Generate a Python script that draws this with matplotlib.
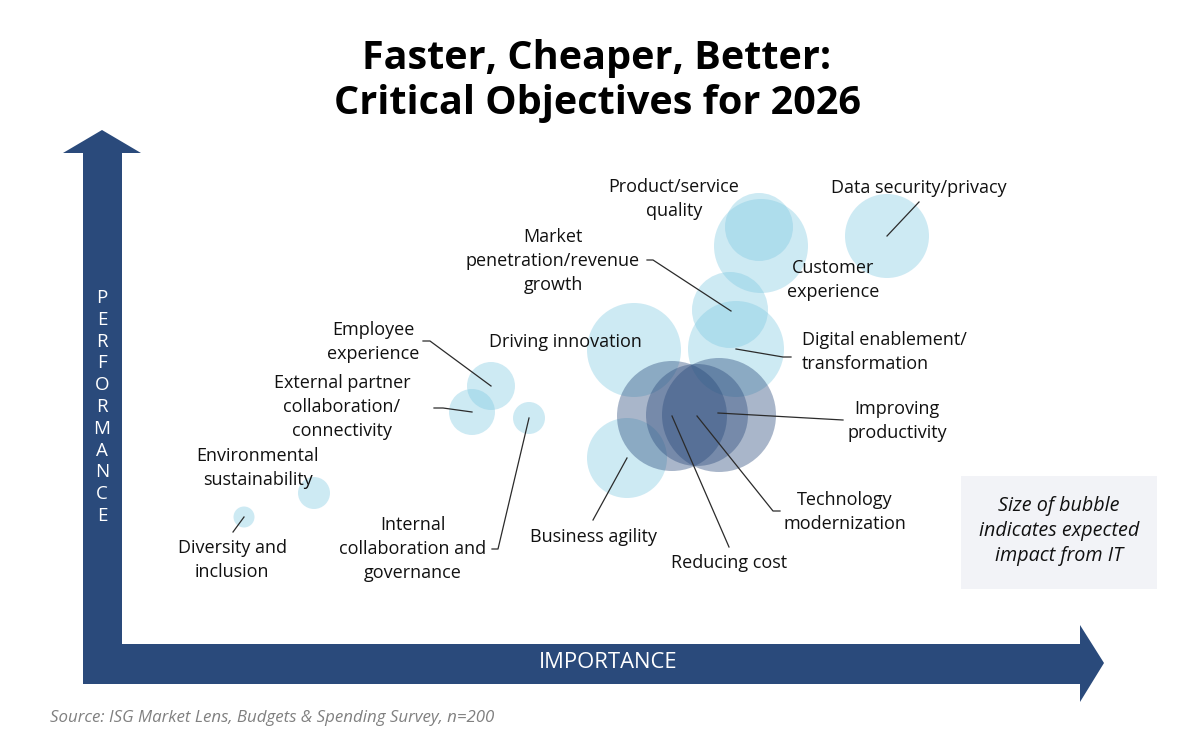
import matplotlib.pyplot as plt
from matplotlib.patches import Circle, Polygon, Rectangle

plt.rcParams['font.family'] = ['Open Sans', 'DejaVu Sans']

# bubbles, in picture units (x = importance, y = performance, downwards)
objectives = ['Diversity and inclusion', 'Environmental sustainability',
              'External partner collaboration/connectivity', 'Employee experience',
              'Internal collaboration and governance', 'Driving innovation',
              'Business agility', 'Product/service quality', 'Customer experience',
              'Data security/privacy', 'Market penetration/revenue growth',
              'Digital enablement/transformation', 'Reducing cost',
              'Technology modernization', 'Improving productivity']
importance = [244, 314, 472, 491, 529, 634, 627, 759, 761, 887, 730, 736, 672, 697, 719]
performance = [517, 493, 412, 386, 418, 350, 458, 227, 246, 236, 310, 349, 416, 415, 415]
impact = [10.5, 16, 23, 24, 16, 47, 40, 34, 47, 42, 38, 48, 55, 51, 57]
top3 = [False] * 12 + [True] * 3

NAVY = '#2a4a7b'
LIGHT = '#7dc8e1'

fig = plt.figure(figsize=(12.01, 7.5), dpi=100)
ax = fig.add_axes([0, 0, 1, 1])
ax.set_xlim(0, 1201)
ax.set_ylim(750, 0)
ax.axis('off')

# axis arrows
ax.add_patch(Polygon([(83, 684), (83, 153), (63, 153), (102, 130), (141, 153),
                      (122, 153), (122, 684)], closed=True, fc=NAVY, ec='none'))
ax.add_patch(Polygon([(83, 644), (1080, 644), (1080, 625), (1104, 663), (1080, 702),
                      (1080, 684), (83, 684)], closed=True, fc=NAVY, ec='none'))
for i, ch in enumerate('PERFORMANCE'):
    ax.text(102, 298 + i * 21.8, ch, color='white', fontsize=13.5, ha='center', va='center')
ax.text(608, 663, 'IMPORTANCE', color='white', fontsize=15.8, ha='center', va='center')

for x, y, r, dark in zip(importance, performance, impact, top3):
    ax.add_patch(Circle((x, y), r, fc=NAVY if dark else LIGHT,
                        alpha=0.4 if dark else 0.38, ec='none', zorder=2))

# label layout: text, x, y, ha, leader points
labels = [
    ('Product/service\nquality', 674, 199, 'center', None),
    ('Data security/privacy', 919, 188, 'center', [(887, 236), (919, 202)]),
    ('Market\npenetration/revenue\ngrowth', 553, 261, 'center',
     [(647, 260), (653, 260), (731, 311)]),
    ('Customer\nexperience', 833, 280, 'center', None),
    ('Employee\nexperience', 373, 342, 'center', [(423, 341), (430, 341), (491, 386)]),
    ('Driving innovation', 565, 342, 'center', None),
    ('Digital enablement/\ntransformation', 802, 352, 'left',
     [(791, 357), (783, 357), (736, 349)]),
    ('External partner\ncollaboration/\nconnectivity', 342, 407, 'center',
     [(434, 408), (443, 408), (472, 412)]),
    ('Improving\nproductivity', 897, 421, 'center', [(843, 420), (718, 413)]),
    ('Environmental\nsustainability', 258, 468, 'center', None),
    ('Technology\nmodernization', 845, 512, 'center', [(780, 511), (773, 511), (697, 416)]),
    ('Business agility', 594, 537, 'center', [(593, 520), (627, 458)]),
    ('Internal\ncollaboration and\ngovernance', 413, 549, 'center',
     [(492, 549), (498, 549), (529, 418)]),
    ('Diversity and\ninclusion', 232, 560, 'center', [(233, 532), (244, 517)]),
    ('Reducing cost', 729, 563, 'center', [(729, 547), (672, 416)]),
]
for txt, x, y, ha, pts in labels:
    ax.text(x, y, txt, fontsize=13, ha=ha, va='center', color='#111111',
            linespacing=1.45, zorder=4)
    if pts:
        ax.plot([p[0] for p in pts], [p[1] for p in pts], color='#2b2b2b', lw=0.9, zorder=3)

# note box
ax.add_patch(Rectangle((961, 476), 196, 113, fc='#f2f3f7', ec='none'))
ax.text(1059, 531, 'Size of bubble\nindicates expected\nimpact from IT', fontsize=14.2,
        style='italic', ha='center', va='center', color='#111111', linespacing=1.3)

ax.text(597, 81, 'Faster, Cheaper, Better:\nCritical Objectives for 2026', fontsize=28.5,
        fontweight='bold', ha='center', va='center', color='black', linespacing=1.22)
ax.text(50, 718, 'Source: ISG Market Lens, Budgets & Spending Survey, n=200', fontsize=12.2,
        style='italic', ha='left', va='center', color='#808080')

fig.savefig('out.png', dpi=100)
